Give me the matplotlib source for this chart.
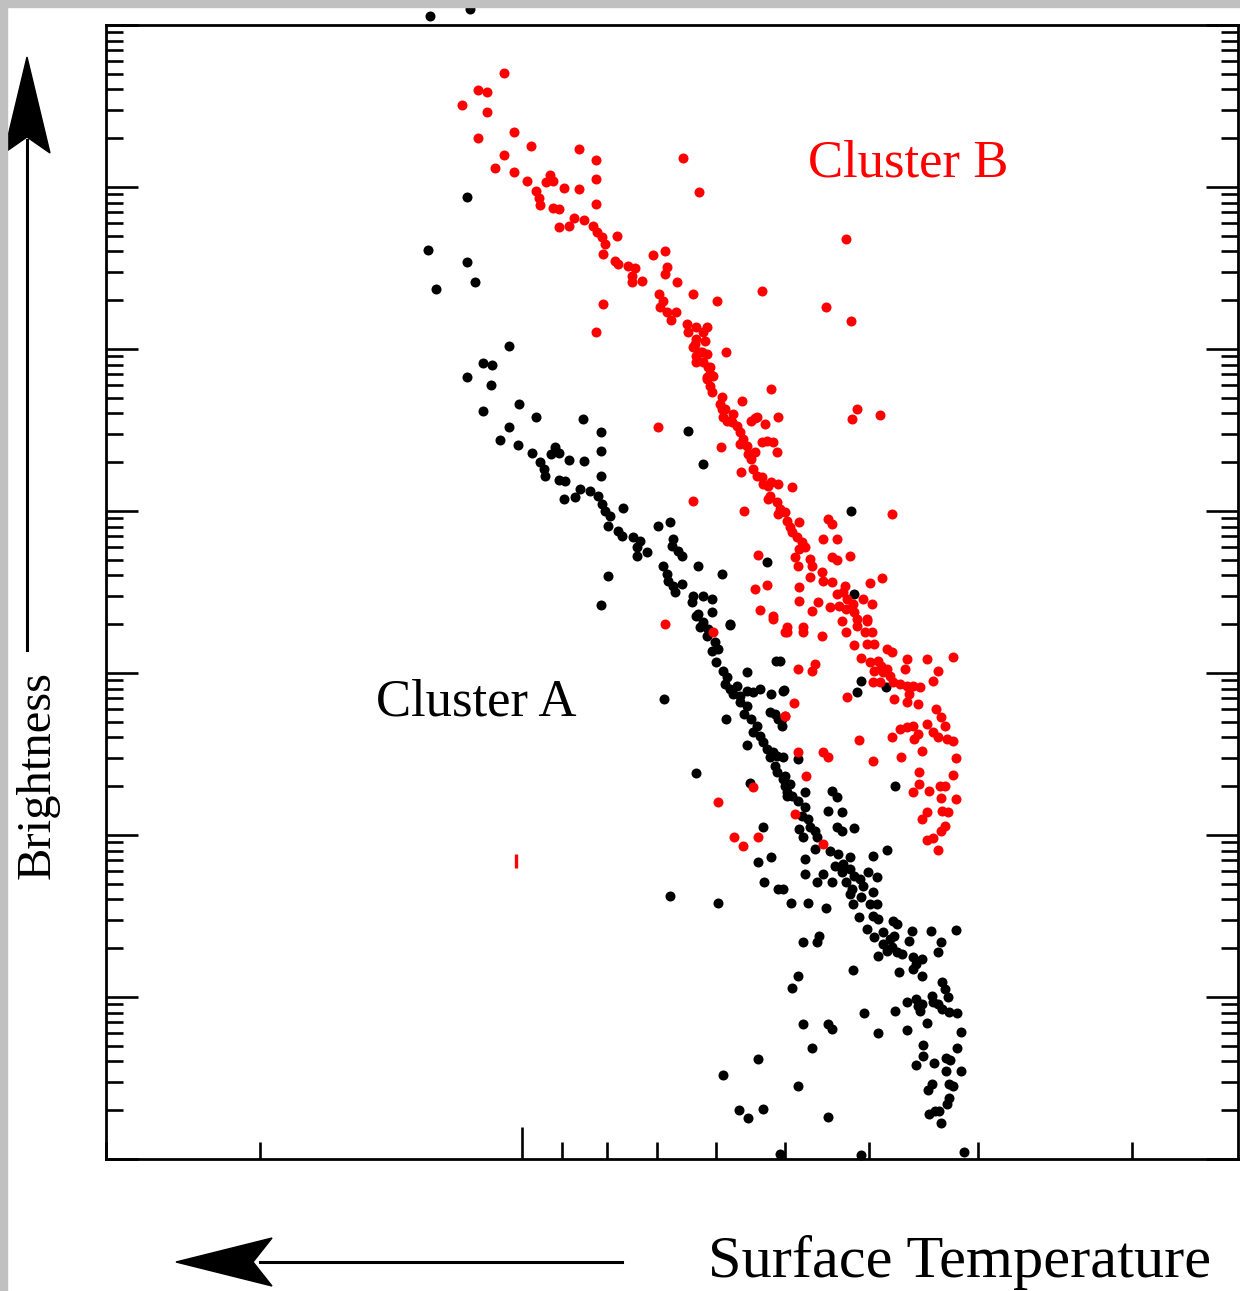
import numpy as np
import matplotlib
matplotlib.use("Agg")
import matplotlib.pyplot as plt
from matplotlib.patches import Polygon, Rectangle
from matplotlib.lines import Line2D
from matplotlib.ticker import LogLocator, NullFormatter

# log10 surface temperature / log10 brightness
red_log_t = [
    4.021, 4.050, 4.040, 4.069, 4.040, 4.009, 4.050, 3.990, 3.935, 3.915,
    4.021, 3.816, 4.031, 4.009, 3.994, 3.968, 3.973, 3.964, 3.952, 3.935,
    3.915, 3.797, 3.984, 3.981, 3.979, 3.964, 3.958, 3.915, 3.940, 3.929,
    3.958, 3.946, 3.919, 3.914, 3.908, 3.905, 3.907, 3.891, 3.893, 3.890,
    3.879, 3.871, 3.874, 3.874, 3.863, 3.850, 3.836, 3.834, 3.836, 3.822,
    3.907, 3.915, 3.843, 3.838, 3.842, 3.834, 3.824, 3.829, 3.804, 3.777,
    3.725, 3.651, 3.811, 3.800, 3.788, 3.810, 3.800, 3.790, 3.804, 3.794,
    3.800, 3.793, 3.785, 3.788, 3.781, 3.785, 3.782, 3.771, 3.773, 3.767,
    3.758, 3.766, 3.748, 3.715, 3.731, 3.707, 3.629, 3.623, 3.793, 3.802,
    3.796, 3.788, 3.800, 3.787, 3.785, 3.788, 3.771, 3.770, 3.765, 3.759,
    3.754, 3.750, 3.747, 3.750, 3.742, 3.741, 3.737, 3.735, 3.733, 3.731,
    3.725, 3.724, 3.718, 3.714, 3.707, 3.716, 3.718, 3.708, 3.704, 3.707,
    3.699, 3.696, 3.693, 3.690, 3.682, 3.685, 3.679, 3.676, 3.682, 3.687,
    3.684, 3.670, 3.668, 3.733, 3.737, 3.721, 3.725, 3.719, 3.712, 3.708,
    3.772, 3.749, 3.690, 3.804, 3.745, 3.616, 3.622, 3.589, 3.576, 3.649,
    3.645, 3.655, 3.639, 3.730, 3.644, 3.639, 3.624, 3.587, 3.601, 3.670,
    3.656, 3.655, 3.644, 3.630, 3.639, 3.632, 3.627, 3.636, 3.628, 3.621,
    3.609, 3.599, 3.619, 3.616, 3.605, 3.647, 3.661, 3.668, 3.682, 3.682,
    3.719, 3.733, 3.727, 3.712, 3.696, 3.678, 3.696, 3.678, 3.656, 3.633,
    3.628, 3.616, 3.604, 3.607, 3.599, 3.604, 3.596, 3.619, 3.582, 3.576,
    3.611, 3.601, 3.592, 3.588, 3.596, 3.586, 3.581, 3.578, 3.590, 3.575,
    3.598, 3.567, 3.559, 3.561, 3.558, 3.552, 3.544, 3.556, 3.558, 3.546,
    3.536, 3.523, 3.529, 3.506, 3.684, 3.667, 3.664, 3.688, 3.698, 3.627,
    3.573, 3.525, 3.519, 3.515, 3.536, 3.567, 3.559, 3.552, 3.546, 3.550,
    3.529, 3.523, 3.513, 3.506, 3.576, 3.614, 3.541, 3.565, 3.598, 3.655,
    3.649, 3.684, 3.502, 3.545, 3.506, 3.545, 3.552, 3.533, 3.521, 3.515,
    3.519, 3.502, 3.536, 3.541, 3.518, 3.512, 3.515, 3.519, 3.536, 3.529,
    3.523, 3.674, 3.687, 3.655, 3.836, 3.781, 3.699, 3.712, 3.699, 3.735,
    3.775, 3.730, 3.757, 3.747, 3.844,
]
red_log_l = [
    3.704, 3.599, 3.586, 3.506, 3.463, 3.340, 3.302, 3.253, 3.235, 3.167,
    3.198, 3.179, 3.117, 3.093, 3.037, 3.074, 3.031, 3.037, 2.994, 2.988,
    3.049, 2.969, 2.975, 2.932, 2.889, 2.870, 2.864, 2.895, 2.809, 2.796,
    2.753, 2.759, 2.759, 2.722, 2.691, 2.648, 2.586, 2.698, 2.543, 2.525,
    2.512, 2.500, 2.451, 2.414, 2.420, 2.580, 2.605, 2.506, 2.463, 2.414,
    2.278, 2.105, 2.340, 2.296, 2.259, 2.228, 2.228, 2.179, 2.340, 2.296,
    2.358, 2.259, 2.154, 2.136, 2.136, 2.105, 2.062, 2.049, 2.012, 1.981,
    1.957, 1.920, 1.889, 1.827, 1.833, 1.772, 1.735, 1.704, 1.661, 1.630,
    1.599, 1.981, 1.679, 1.753, 1.580, 1.580, 2.679, 2.173, 2.105, 2.031,
    1.981, 1.969, 1.920, 1.889, 1.846, 1.815, 1.630, 1.580, 1.556, 1.549,
    1.525, 1.488, 1.444, 1.414, 1.401, 1.352, 1.321, 1.259, 1.364, 1.216,
    1.210, 1.167, 1.154, 1.179, 1.167, 1.093, 1.074, 1.056, 1.012, 0.981,
    0.994, 0.938, 0.901, 0.870, 0.932, 0.840, 0.809, 0.778, 0.765, 0.716,
    0.661, 0.704, 0.661, 1.574, 1.556, 1.537, 1.426, 1.432, 1.426, 1.364,
    1.395, 1.241, 1.148, 1.062, 1.000, 1.630, 1.568, 1.593, 0.981, 0.951,
    0.920, 0.827, 0.827, 0.728, 0.716, 0.698, 0.722, 0.586, 0.556, 0.593,
    0.623, 0.568, 0.562, 0.537, 0.488, 0.500, 0.457, 0.414, 0.395, 0.426,
    0.457, 0.426, 0.377, 0.333, 0.333, 0.407, 0.438, 0.383, 0.531, 0.444,
    0.543, 0.519, 0.389, 0.352, 0.284, 0.284, 0.253, 0.253, 0.228, 0.321,
    0.253, 0.290, 0.321, 0.253, 0.253, 0.179, 0.179, 0.173, 0.148, 0.130,
    0.093, 0.068, 0.074, 0.043, 0.012, 0.006, 0.025, -0.019, -0.056, -0.056,
    -0.056, -0.068, 0.086, 0.025, -0.080, -0.080, -0.086, -0.130, -0.179, -0.191,
    0.086, 0.012, -0.049, 0.099, 0.025, 0.012, 0.056, -0.185, -0.265, -0.148,
    -0.160, -0.222, -0.272, -0.327, -0.315, -0.346, -0.333, -0.327, -0.377, -0.407,
    -0.364, -0.395, -0.407, -0.420, -0.395, -0.414, -0.481, -0.519, -0.543, -0.488,
    -0.519, -0.488, -0.525, -0.611, -0.630, -0.685, -0.735, -0.728, -0.698, -0.698,
    -0.772, -0.778, -0.858, -0.901, -0.852, -0.858, -0.944, -0.975, -1.031, -1.019,
    -1.093, -0.636, -0.870, -1.056, 0.302, 0.253, 0.253, 0.333, -0.265, -0.704,
    -0.796, -1.012, -1.012, -1.068, 1.519,
]
# one odd red mark drawn as a short bar
red_bar_log_t = [4.007]
red_bar_log_l = [-1.160]

black_log_t = [
    4.105, 4.060, 4.063, 4.108, 4.063, 4.054, 4.099, 4.015, 4.045, 4.034,
    4.063, 4.036, 4.045, 4.003, 3.984, 3.930, 3.910, 4.015, 4.025, 4.005,
    3.989, 3.962, 3.967, 3.958, 3.946, 3.929, 3.910, 3.979, 3.975, 3.974,
    3.958, 3.951, 3.910, 3.934, 3.922, 3.939, 3.952, 3.913, 3.908, 3.905,
    3.899, 3.884, 3.901, 3.890, 3.885, 3.873, 3.865, 3.868, 3.857, 3.868,
    3.844, 3.830, 3.827, 3.828, 3.821, 3.817, 3.810, 3.798, 3.838, 3.834,
    3.833, 3.827, 3.817, 3.825, 3.804, 3.805, 3.800, 3.901, 3.910, 3.792,
    3.623, 3.719, 3.771, 3.761, 3.619, 3.793, 3.782, 3.798, 3.782, 3.793,
    3.796, 3.787, 3.788, 3.779, 3.782, 3.775, 3.778, 3.762, 3.709, 3.770,
    3.765, 3.742, 3.767, 3.762, 3.754, 3.758, 3.750, 3.742, 3.735, 3.727,
    3.750, 3.742, 3.745, 3.737, 3.731, 3.735, 3.727, 3.724, 3.716, 3.714,
    3.701, 3.707, 3.702, 3.710, 3.719, 3.712, 3.716, 3.708, 3.701, 3.710,
    3.708, 3.701, 3.699, 3.696, 3.742, 3.766, 3.837, 3.800, 3.739, 3.724,
    3.729, 3.715, 3.722, 3.707, 3.830, 3.704, 3.700, 3.702, 3.611, 3.616,
    3.583, 3.572, 3.684, 3.699, 3.693, 3.696, 3.690, 3.676, 3.684, 3.676,
    3.679, 3.672, 3.670, 3.682, 3.678, 3.664, 3.662, 3.645, 3.639, 3.649,
    3.633, 3.639, 3.633, 3.619, 3.664, 3.647, 3.638, 3.624, 3.598, 3.582,
    3.676, 3.676, 3.655, 3.641, 3.632, 3.633, 3.624, 3.619, 3.613, 3.628,
    3.644, 3.662, 3.603, 3.593, 3.609, 3.598, 3.701, 3.622, 3.775, 3.692,
    3.672, 3.652, 3.624, 3.611, 3.621, 3.601, 3.593, 3.614, 3.598, 3.592,
    3.575, 3.570, 3.605, 3.596, 3.586, 3.578, 3.573, 3.586, 3.576, 3.582,
    3.570, 3.564, 3.592, 3.553, 3.556, 3.531, 3.502, 3.519, 3.523, 3.552,
    3.548, 3.541, 3.552, 3.568, 3.541, 3.659, 3.662, 3.678, 3.621, 3.683,
    3.691, 3.518, 3.515, 3.512, 3.530, 3.529, 3.548, 3.559, 3.546, 3.541,
    3.544, 3.523, 3.518, 3.510, 3.501, 3.572, 3.608, 3.536, 3.559, 3.592,
    3.497, 3.678, 3.649, 3.644, 3.668, 3.540, 3.540, 3.548, 3.528, 3.514,
    3.509, 3.501, 3.514, 3.497, 3.729, 3.769, 3.683, 3.530, 3.535, 3.510,
    3.506, 3.510, 3.513, 3.527, 3.533, 3.522, 3.519, 3.751, 3.741, 3.724,
    3.649, 3.493, 3.611, 3.704,
]
black_log_l = [
    4.056, 4.099, 2.938, 2.611, 2.537, 2.414, 2.370, 2.019, 1.914, 1.901,
    1.827, 1.778, 1.617, 1.661, 1.580, 1.568, 1.488, 1.519, 1.438, 1.407,
    1.358, 1.395, 1.352, 1.358, 1.315, 1.309, 1.370, 1.302, 1.259, 1.216,
    1.191, 1.185, 1.216, 1.136, 1.123, 1.086, 1.074, 1.093, 1.043, 1.000,
    0.969, 1.019, 0.907, 0.877, 0.846, 0.840, 0.815, 0.778, 0.747, 0.722,
    0.907, 0.932, 0.827, 0.784, 0.753, 0.722, 1.494, 0.661, 0.661, 0.611,
    0.568, 0.537, 0.549, 0.500, 0.475, 0.438, 0.352, 0.599, 0.420, 1.290,
    1.000, 0.685, 0.611, 0.296, 0.488, 0.475, 0.457, 0.364, 0.377, 0.315,
    0.284, 0.272, 0.228, 0.191, 0.136, 0.148, 0.068, 0.302, 0.074, 0.012,
    -0.025, 0.006, -0.068, -0.099, -0.080, -0.130, -0.142, -0.111, -0.117, -0.099,
    -0.179, -0.204, -0.253, -0.284, -0.327, -0.364, -0.389, -0.426, -0.241, -0.130,
    -0.111, -0.284, -0.327, -0.253, -0.469, -0.488, -0.519, -0.512, -0.519, -0.574,
    -0.611, -0.654, -0.698, -0.759, -0.444, -0.284, -0.160, -0.617, -0.679, -0.951,
    -1.167, -1.136, -1.290, -1.333, -1.377, 0.074, -0.105, -0.284, -0.049, -0.117,
    -0.086, -0.698, -0.531, -0.636, -0.685, -0.735, -0.759, -0.735, -0.790, -0.827,
    -0.883, -0.901, -0.951, -0.963, -1.012, -0.975, -1.012, -0.728, -0.765, -0.852,
    -0.858, -0.951, -0.975, -0.957, -1.086, -1.099, -1.117, -1.136, -1.130, -1.093,
    -1.148, -1.241, -1.241, -1.191, -1.179, -1.228, -1.210, -1.253, -1.272, -1.290,
    -1.290, -1.290, -1.228, -1.259, -1.315, -1.352, -1.333, -1.333, -1.420, -1.420,
    -1.420, -1.451, -1.364, -1.383, -1.426, -1.426, -1.426, -1.506, -1.500, -1.519,
    -1.531, -1.549, -1.580, -1.630, -1.599, -1.642, -1.623, -1.673, -1.691, -1.716,
    -1.722, -1.735, -1.747, -1.593, -1.654, -1.593, -1.587, -1.660, -1.722, -1.753,
    -1.796, -1.765, -1.827, -1.846, -1.870, -1.623, -1.660, -1.660, -1.833, -1.870,
    -1.944, -1.907, -1.951, -2.000, -1.994, -2.031, -2.012, -2.031, -2.056, -2.043,
    -2.086, -2.043, -2.074, -2.093, -2.099, -2.086, -2.099, -2.160, -2.204, -2.222,
    -2.216, -2.167, -2.167, -2.198, -2.315, -2.296, -2.364, -2.420, -2.407, -2.377,
    -2.389, -2.315, -2.457, -2.457, -2.383, -2.481, -2.549, -2.537, -2.574, -2.537,
    -2.549, -2.623, -2.660, -2.704, -2.722, -2.704, -2.778, -2.698, -2.747, -2.691,
    -2.741, -2.957, -2.975, -2.969,
]

W, H = 1240, 1291
border_gray = "#c0c0c0"
serif = "Liberation Serif"
dot_size = 52


def fx(px):
    return px / W


def fy(py):
    return 1 - py / H


fig = plt.figure(figsize=(W / 100, H / 100), dpi=100)
fig.patch.set_facecolor("white")
ax = fig.add_axes([fx(106), fy(1159), 1132 / W, 1134 / H])

ax.scatter(10 ** np.array(black_log_t), 10 ** np.array(black_log_l),
           s=dot_size, c="black", linewidths=0, clip_on=False, zorder=3)
ax.scatter(10 ** np.array(red_log_t), 10 ** np.array(red_log_l),
           s=dot_size, c="red", linewidths=0, clip_on=False, zorder=4)
ax.plot(10 ** np.array(red_bar_log_t), 10 ** np.array(red_bar_log_l),
        ls="none", marker="|", ms=10, mew=2.4, color="red", zorder=4)

ax.set_xscale("log")
ax.set_yscale("log")
ax.set_xlim(30000, 1510)  # hot on the left
ax.set_ylim(1e-3, 1e4)

for axis in (ax.xaxis, ax.yaxis):
    axis.set_major_locator(LogLocator(base=10, numticks=30))
    axis.set_minor_locator(LogLocator(base=10, subs=np.arange(2, 10), numticks=30))
    axis.set_major_formatter(NullFormatter())
    axis.set_minor_formatter(NullFormatter())

ax.tick_params(which="both", direction="in", width=1.9, color="black")
ax.tick_params(which="major", length=23)
ax.tick_params(which="minor", length=12)
ax.tick_params(axis="x", which="both", top=False, bottom=True)
ax.tick_params(axis="y", which="both", left=True, right=True)
for sp in ax.spines.values():
    sp.set_linewidth(2.0)

ax.text(0.327, 0.3915, "Cluster A", transform=ax.transAxes, ha="center",
        va="baseline", fontsize=38, family=serif, color="black")
ax.text(0.709, 0.866, "Cluster B", transform=ax.transAxes, ha="center",
        va="baseline", fontsize=38, family=serif, color="red")

# axis arrows
fig.add_artist(Line2D([fx(27), fx(27)], [fy(650), fy(140)], lw=2.2, color="black"))
fig.add_artist(Polygon([(fx(27), fy(57)), (fx(50), fy(153)), (fx(27), fy(137)),
                        (fx(4), fy(153))], closed=True, color="black",
                       transform=fig.transFigure))
fig.add_artist(Line2D([fx(622), fx(260)], [fy(1262), fy(1262)], lw=2.2, color="black"))
fig.add_artist(Polygon([(fx(176), fy(1262)), (fx(272), fy(1238)), (fx(253), fy(1262)),
                        (fx(272), fy(1286))], closed=True, color="black",
                       transform=fig.transFigure))

fig.text(fx(38), fy(775), "Brightness", rotation=90, ha="center", va="center",
         fontsize=35, family=serif)
fig.text(fx(960), fy(1277), "Surface Temperature", ha="center", va="baseline",
         fontsize=43.5, family=serif)

# grey frame strip on the top and left edges
fig.add_artist(Rectangle((0, fy(7)), 1, 7 / H, color=border_gray,
                         transform=fig.transFigure, zorder=10))
fig.add_artist(Rectangle((0, 0), fx(7), 1, color=border_gray,
                         transform=fig.transFigure, zorder=10))

fig.savefig("out.png", dpi=100)
